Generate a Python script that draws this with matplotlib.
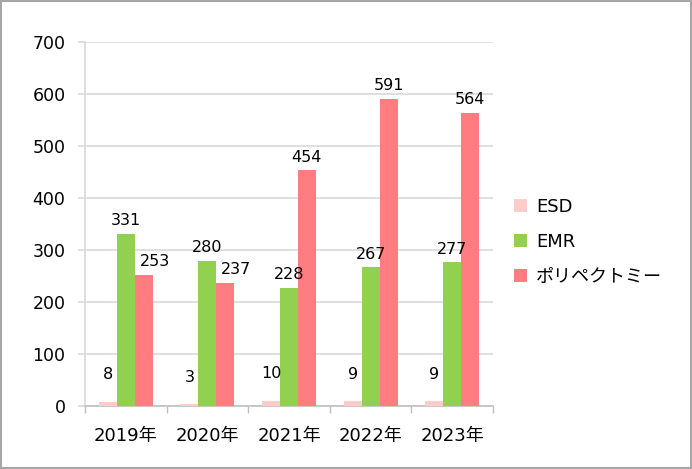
import matplotlib.pyplot as plt
from matplotlib.patches import Rectangle
import numpy as np

plt.rcParams['font.family'] = ['DejaVu Sans', 'Noto Sans CJK JP']

# data
years = ["2019年", "2020年", "2021年", "2022年", "2023年"]
series = ["ESD", "EMR", "ポリペクトミー"]
esd = [8, 3, 10, 9, 9]
emr = [331, 280, 228, 267, 277]
poly = [253, 237, 454, 591, 564]

colors = ["#FFCCCC", "#92D050", "#FF7C80"]
label_gap = [14, 4, 4]  # points above bar top

fig = plt.figure(figsize=(6.92, 4.69), dpi=100)
ax = fig.add_axes([0.1228, 0.1343, 0.5896, 0.7755])

x = np.arange(len(years))
w = 0.22
all_vals = [esd, emr, poly]
for i, (vals, name) in enumerate(zip(all_vals, series)):
    pos = x + (i - 1) * w
    ax.bar(pos, vals, width=w, color=colors[i], label=name, zorder=3)
    for k, (p, v) in enumerate(zip(pos, vals)):
        dx = 0
        # push the red label aside when it sits next to the green one
        if i == 2 and abs(v - emr[k]) < 100:
            dx = 8
        ax.annotate(str(v), (p, v), xytext=(dx, label_gap[i]), textcoords="offset points",
                    ha="center", va="bottom", fontsize=11.5, color="black", zorder=4)

ax.set_xlim(-0.5, len(years) - 0.5)
ax.set_ylim(0, 700)
ax.set_yticks(range(0, 701, 100))
ax.grid(axis="y", color="#D9D9D9", linewidth=1.2, zorder=0)

ax.set_xticks(x)
ax.set_xticklabels(years, fontsize=13)
ax.set_xticks(np.arange(-0.5, len(years)), minor=True)
ax.tick_params(axis="x", which="major", length=0, pad=15)
ax.tick_params(axis="x", which="minor", length=5, color="#BFBFBF", width=1)
ax.tick_params(axis="y", length=5, color="#D9D9D9", width=1.2, pad=9, labelsize=12.5)

for s in ["top", "right"]:
    ax.spines[s].set_visible(False)
ax.spines["left"].set_color("#D9D9D9")
ax.spines["left"].set_linewidth(1.2)
ax.spines["bottom"].set_color("#BFBFBF")
ax.spines["bottom"].set_linewidth(1.2)

leg = fig.legend(loc="upper left", bbox_to_anchor=(0.733, 0.594), frameon=False,
                 fontsize=13, handlelength=0.7, handleheight=0.7, handletextpad=0.5,
                 labelspacing=0.95, borderaxespad=0)

fig.patches.append(Rectangle((0.0015, 0.002), 0.997, 0.996, transform=fig.transFigure,
                             fill=False, edgecolor="#A6A6A6", linewidth=1.5))

fig.savefig("out.png", dpi=100)
